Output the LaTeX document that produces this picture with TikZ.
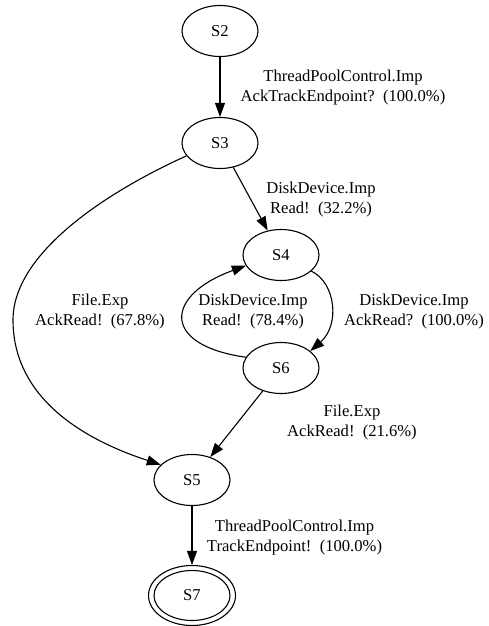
\documentclass[tikz,border=0pt]{standalone}
\usepackage{fontspec}
\setmainfont{Liberation Serif}
\usetikzlibrary{arrows.meta,shapes.geometric}
\begin{document}
\begin{tikzpicture}[x=1pt,y=-1pt,
  every node/.style={font=\fontsize{16.6}{20}\selectfont},
  state/.style={draw, ellipse, line width=1.1pt, minimum width=76pt,
    minimum height=51pt, inner sep=0pt},
  final/.style={draw, ellipse, line width=1.1pt, minimum width=87pt,
    minimum height=60pt, inner sep=0pt},
  elabel/.style={align=center, inner sep=0pt},
  edge/.style={line width=1.1pt, -{Triangle[length=14pt,width=10pt]}}]
\useasboundingbox (0,0) rectangle (488,626);

% states
\node[state] (S2) at (220,31)  {S2};
\node[state] (S3) at (220,143) {S3};
\node[state] (S4) at (281,255) {S4};
\node[state] (S6) at (281,368) {S6};
\node[state] (S5) at (192,480) {S5};
\node[final] (S7) at (192,595.5) {S7};
\draw[line width=1.1pt] (S7.center) ellipse (38 and 25);

% transition labels
\node[elabel] (l23) at (343,88)    {ThreadPoolControl.Imp\\AckTrackEndpoint?\ \ (100.0\%)};
\node[elabel] (l34) at (321,200)   {DiskDevice.Imp\\Read!\ \ (32.2\%)};
\node[elabel] (l35) at (100,312)   {File.Exp\\AckRead!\ \ (67.8\%)};
\node[elabel] (l64) at (253,312)   {DiskDevice.Imp\\Read!\ \ (78.4\%)};
\node[elabel] (l46) at (414,312)   {DiskDevice.Imp\\AckRead?\ \ (100.0\%)};
\node[elabel] (l65) at (352,423)   {File.Exp\\AckRead!\ \ (21.6\%)};
\node[elabel] (l57) at (294.5,538) {ThreadPoolControl.Imp\\TrackEndpoint!\ \ (100.0\%)};

% transitions
\draw[edge] (S2) -- (S3);
\draw[edge] (S3) -- (S4);
\draw[edge] (S3.201) .. controls (115,188) and (13,250) .. (13,320)
                     .. controls (13,390) and (70,435) .. (S5.154);
\draw[edge] (S4.-28) .. controls (336,283) and (340,325) .. (S6.30);
\draw[edge] (S6.163) .. controls (160,345) and (165,295) .. (S4.197);
\draw[edge] (S6) -- (S5);
\draw[edge] (S5) -- (S7);
\end{tikzpicture}
\end{document}
